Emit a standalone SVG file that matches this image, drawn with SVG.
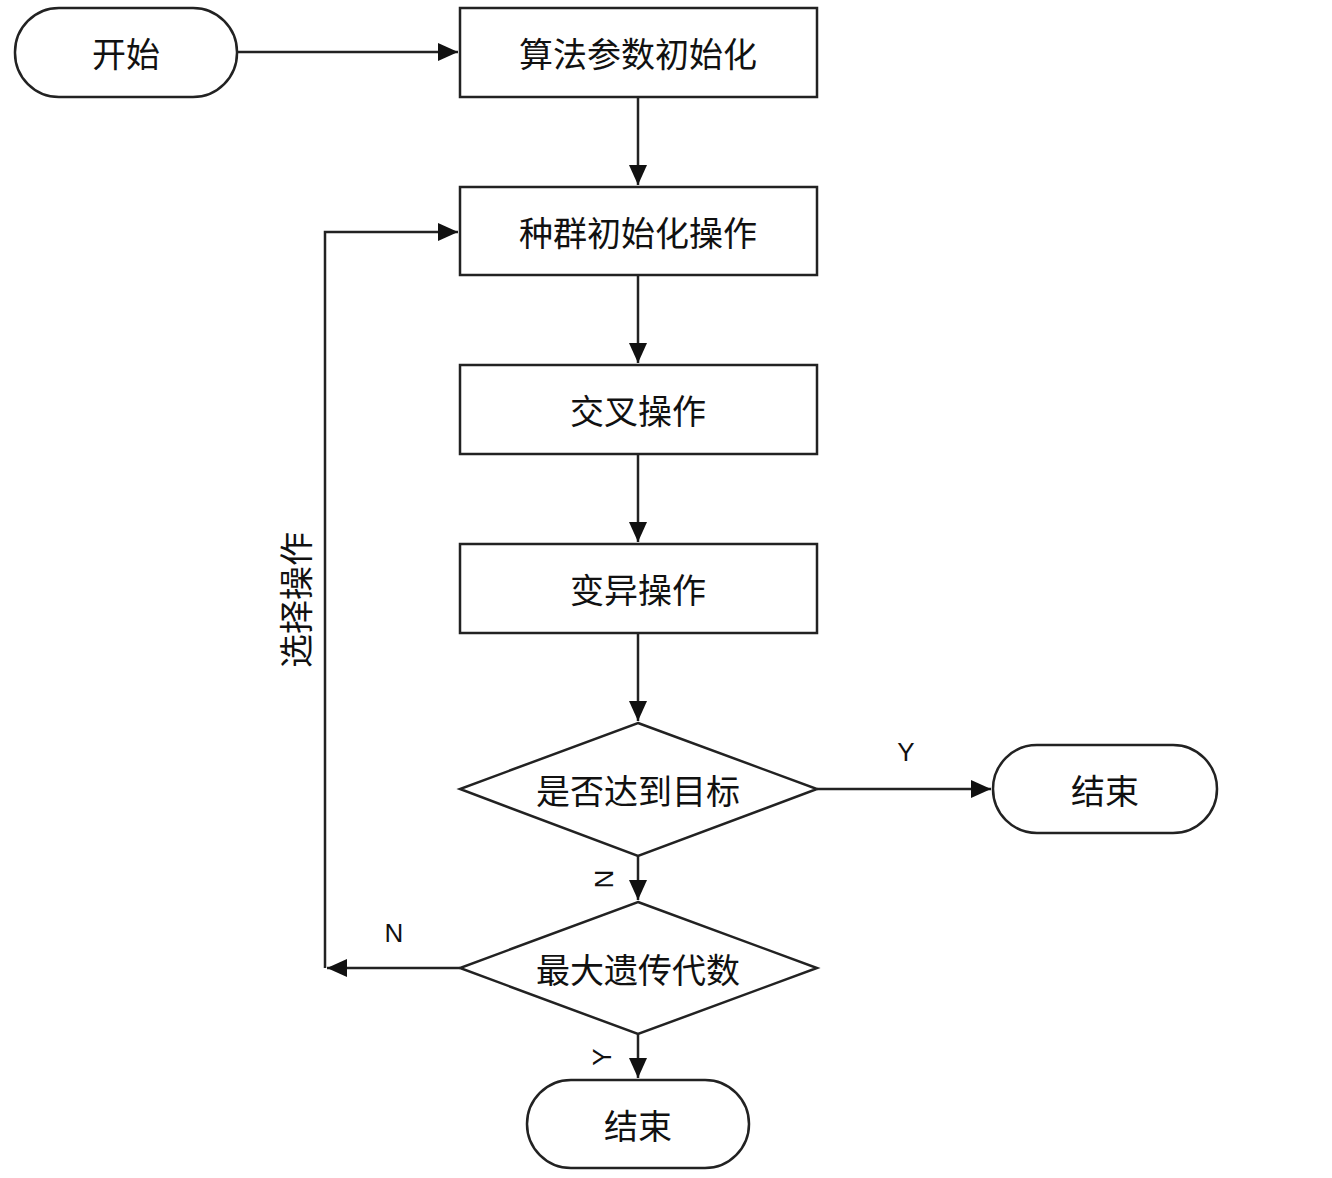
<svg xmlns="http://www.w3.org/2000/svg" width="1332" height="1178" viewBox="0 0 1332 1178">
<defs>
<style>
.s{fill:#fff;stroke:#222;stroke-width:2.5}
.t{font-family:"Noto Sans CJK SC",sans-serif;font-size:34px;fill:#111;text-anchor:middle;dominant-baseline:central}
.l{font-family:"Liberation Sans",sans-serif;font-size:26px;fill:#111;text-anchor:middle;dominant-baseline:central}
.c{fill:none;stroke:#222;stroke-width:2.5}
</style>
<marker id="a" viewBox="0 0 10 10" refX="10" refY="5" markerWidth="20" markerHeight="20" markerUnits="userSpaceOnUse" orient="auto"><path d="M0,0.5L10,5L0,9.5z" fill="#111"/></marker>
</defs>
<rect width="1332" height="1178" fill="#fff"/>
<g id="start"><rect class="s" x="15" y="8" width="222" height="89" rx="44"/><text class="t" x="126" y="52">开始</text></g>
<g id="n1"><rect class="s" x="460" y="8" width="357" height="89"/><text class="t" x="638" y="52">算法参数初始化</text></g>
<g id="n2"><rect class="s" x="460" y="187" width="357" height="88"/><text class="t" x="638" y="231">种群初始化操作</text></g>
<g id="n3"><rect class="s" x="460" y="365" width="357" height="89"/><text class="t" x="638" y="409">交叉操作</text></g>
<g id="n4"><rect class="s" x="460" y="544" width="357" height="89"/><text class="t" x="638" y="588">变异操作</text></g>
<g id="d1"><polygon class="s" points="638,723 817,789 638,856 460,789"/><text class="t" x="638" y="789">是否达到目标</text></g>
<g id="d2"><polygon class="s" points="638,902 817,968 638,1034 460,968"/><text class="t" x="638" y="968">最大遗传代数</text></g>
<g id="end1"><rect class="s" x="993" y="745" width="224" height="88" rx="44"/><text class="t" x="1105" y="789">结束</text></g>
<g id="end2"><rect class="s" x="527" y="1080" width="222" height="88" rx="44"/><text class="t" x="638" y="1124">结束</text></g>
<g id="connectors">
<path class="c" d="M237,52H458" marker-end="url(#a)"/>
<path class="c" d="M638,97V185" marker-end="url(#a)"/>
<path class="c" d="M638,275V363" marker-end="url(#a)"/>
<path class="c" d="M638,454V542" marker-end="url(#a)"/>
<path class="c" d="M638,633V721" marker-end="url(#a)"/>
<path class="c" d="M817,789H991" marker-end="url(#a)"/>
<path class="c" d="M638,856V900" marker-end="url(#a)"/>
<path class="c" d="M638,1034V1078" marker-end="url(#a)"/>
<path class="c" d="M460,968H327" marker-end="url(#a)"/>
<path class="c" d="M325,968V232H458" marker-end="url(#a)"/>
<text class="l" x="906" y="752">Y</text>
<text class="l" x="394" y="933">N</text>
<text class="l" transform="translate(604,879) rotate(-90)">N</text>
<text class="l" transform="translate(602,1057) rotate(-90)">Y</text>
<text class="t" transform="translate(294,600) rotate(-90)">选择操作</text>
</g>
</svg>
